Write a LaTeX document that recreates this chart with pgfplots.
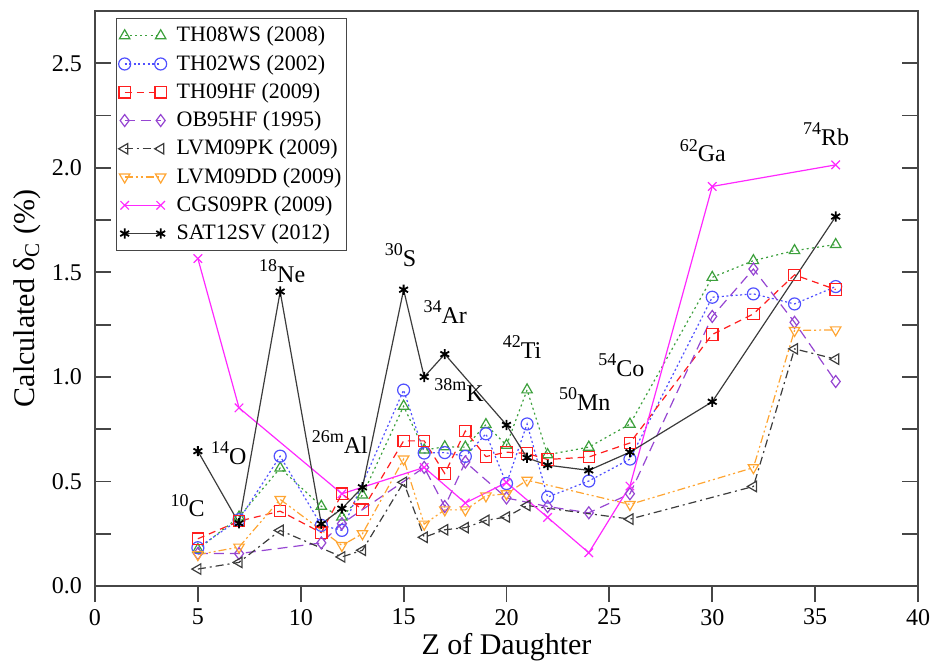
\documentclass[border=0pt]{standalone}
\usepackage{fontspec}
\setmainfont{Liberation Serif}
\usepackage{pgfplots}
\pgfplotsset{compat=1.18}

\definecolor{cgreen}{RGB}{60,160,60}
\definecolor{cblue}{RGB}{80,80,255}
\definecolor{cred}{RGB}{255,30,30}
\definecolor{cpurple}{RGB}{150,70,210}
\definecolor{cgray}{RGB}{60,60,60}
\definecolor{corange}{RGB}{255,165,50}
\definecolor{cmag}{RGB}{255,40,255}
\definecolor{frame}{RGB}{70,70,70}

% isotope label: mass number raised, then symbol
\newcommand\iso[2]{\raisebox{0.45em}{\fontsize{9}{10}\selectfont #1}#2}

\begin{document}
\begin{tikzpicture}
\begin{axis}[
    scale only axis,
    width=411.5pt, height=287.5pt,
    xmin=0, xmax=40, ymin=0, ymax=2.75,
    xtick=\empty,
    ytick={0,0.5,...,2.5},
    minor ytick={0.25,0.75,...,2.3},
    ytick pos=both,
    tick align=inside,
    major tick length=8pt, minor tick length=8pt,
    axis line style={frame, line width=0.9pt},
    tick style={frame, line width=0.9pt},
    y tick label style={font=\fontsize{12}{14}\selectfont, xshift=-3pt,
        /pgf/number format/fixed, /pgf/number format/fixed zerofill,
        /pgf/number format/precision=1, /pgf/number format/assume math mode=true},
    ylabel={Calculated δ\textsubscript{C} (\%)},
    ylabel style={font=\fontsize{15}{18}\selectfont, yshift=-1.5pt},
    every axis plot/.append style={line width=0.6pt, mark size=3pt},
    legend image code/.code={\draw[#1] plot coordinates {(0pt,0pt) (18pt,0pt)};},
    legend cell align=left,
    legend style={at={(0.0255,0.988)}, anchor=north west, draw=frame, line width=0.7pt,
        font=\fontsize{11}{13}\selectfont, row sep=0pt, column sep=3.5pt,
        nodes={inner ysep=2.5pt, inner xsep=1.5pt}, inner xsep=1pt, inner ysep=1.5pt},
]
\addplot[cgreen, dash pattern=on 1pt off 1.6pt, mark=triangle, mark options={solid}] coordinates {
    (5,0.175)(7,0.33)(9,0.564)(11,0.381)(12,0.33)(13,0.435)(15,0.86)(16,0.65)(17,0.666)(18,0.664)
    (19,0.772)(20,0.673)(21,0.938)(22,0.628)(24,0.664)(26,0.774)(30,1.476)(32,1.556)(34,1.604)(36,1.633)};
\addlegendentry{TH08WS (2008)}
\addplot[cblue, dash pattern=on 1pt off 1.3pt, mark=o, mark options={solid}] coordinates {
    (5,0.183)(7,0.317)(9,0.621)(11,0.29)(12,0.266)(15,0.937)(16,0.636)(17,0.638)(18,0.62)(19,0.728)
    (20,0.49)(21,0.775)(22,0.425)(24,0.502)(26,0.607)(30,1.381)(32,1.397)(34,1.349)(36,1.432)};
\addlegendentry{TH02WS (2002)}
\addplot[cred, dash pattern=on 3.5pt off 2.5pt, mark=square, mark options={solid, scale=0.95}] coordinates {
    (5,0.226)(7,0.31)(9,0.358)(11,0.255)(12,0.441)(13,0.365)(15,0.694)(16,0.694)(17,0.538)(18,0.741)
    (19,0.619)(20,0.64)(21,0.634)(22,0.605)(24,0.617)(26,0.684)(30,1.203)(32,1.301)(34,1.488)(36,1.418)};
\addlegendentry{TH09HF (2009)}
\addplot[cpurple, dash pattern=on 5pt off 3pt, mark=diamond, mark options={solid}] coordinates {
    (5,0.155)(7,0.155)(11,0.206)(12,0.298)(16,0.567)(17,0.38)(18,0.593)(20,0.421)(22,0.38)(24,0.35)
    (26,0.441)(30,1.289)(32,1.516)(34,1.261)(36,0.978)};
\addlegendentry{OB95HF (1995)}
\addplot[cgray, dash pattern=on 4pt off 2pt on 1pt off 2pt, mark=triangle, mark options={solid, rotate=90}] coordinates {
    (5,0.081)(7,0.113)(9,0.266)(12,0.139)(13,0.171)(15,0.496)(16,0.233)(17,0.269)(18,0.279)(19,0.314)
    (20,0.33)(21,0.385)(26,0.32)(32,0.476)(34,1.134)(36,1.085)};
\addlegendentry{LVM09PK (2009)}
\addplot[corange, dash pattern=on 4pt off 1.5pt on 1pt off 1.5pt on 1pt off 1.5pt, mark=triangle, mark options={solid, rotate=180}] coordinates {
    (5,0.15)(7,0.186)(9,0.414)(12,0.194)(13,0.25)(15,0.607)(16,0.296)(17,0.364)(18,0.364)(19,0.431)
    (20,0.441)(21,0.506)(26,0.39)(32,0.566)(34,1.222)(36,1.225)};
\addlegendentry{LVM09DD (2009)}
\addplot[cmag, solid, mark=x, mark options={solid}] coordinates {
    (5,1.566)(7,0.852)(12,0.441)(16,0.567)(18,0.397)(20,0.495)(22,0.328)(24,0.159)(26,0.478)(30,1.911)(36,2.014)};
\addlegendentry{CGS09PR (2009)}
\addplot[cgray, solid, mark=asterisk, mark options={black, line width=0.9pt, scale=0.85}] coordinates {
    (5,0.645)(7,0.30)(9,1.408)(11,0.297)(12,0.37)(13,0.472)(15,1.417)(16,1.0)(17,1.109)(20,0.77)
    (21,0.613)(22,0.578)(24,0.553)(26,0.64)(30,0.881)(36,1.767)};
\addlegendentry{SAT12SV (2012)}

\begin{scope}[every node/.style={anchor=base, inner sep=0pt, font=\fontsize{12}{14}\selectfont}]
\node at (axis cs:4.5,0.33) {\iso{10}{C}};
\node at (axis cs:6.5,0.58) {\iso{14}{O}};
\node at (axis cs:9.1,1.452) {\iso{18}{Ne}};
\node at (axis cs:11.9,0.635) {\iso{26m}{Al}};
\node at (axis cs:14.85,1.527) {\iso{30}{S}};
\node at (axis cs:17.02,1.257) {\iso{34}{Ar}};
\node at (axis cs:17.69,0.883) {\iso{38m}{K}};
\node at (axis cs:20.76,1.09) {\iso{42}{Ti}};
\node at (axis cs:23.8,0.84) {\iso{50}{Mn}};
\node at (axis cs:25.58,1.003) {\iso{54}{Co}};
\node at (axis cs:29.54,2.028) {\iso{62}{Ga}};
\node at (axis cs:35.53,2.106) {\iso{74}{Rb}};
\end{scope}
\end{axis}

% second axis only for the outward x ticks and the x label
\begin{axis}[
    scale only axis,
    width=411.5pt, height=287.5pt,
    xmin=0, xmax=40, ymin=0, ymax=2.75,
    ytick=\empty,
    xtick={0,5,...,40},
    xtick pos=left,
    tick align=outside,
    major tick length=8pt,
    axis line style={draw=none},
    tick style={frame, line width=0.9pt},
    x tick label style={font=\fontsize{12}{14}\selectfont, /pgf/number format/assume math mode=true},
    xlabel={Z of Daughter},
    xlabel style={font=\fontsize{15}{18}\selectfont, yshift=3pt},
]
\end{axis}
\pgfresetboundingbox
\path ([shift={(-47.5pt,-39pt)}]current axis.south west) rectangle ([shift={(7.5pt,5.5pt)}]current axis.north east);
\end{tikzpicture}
\end{document}
